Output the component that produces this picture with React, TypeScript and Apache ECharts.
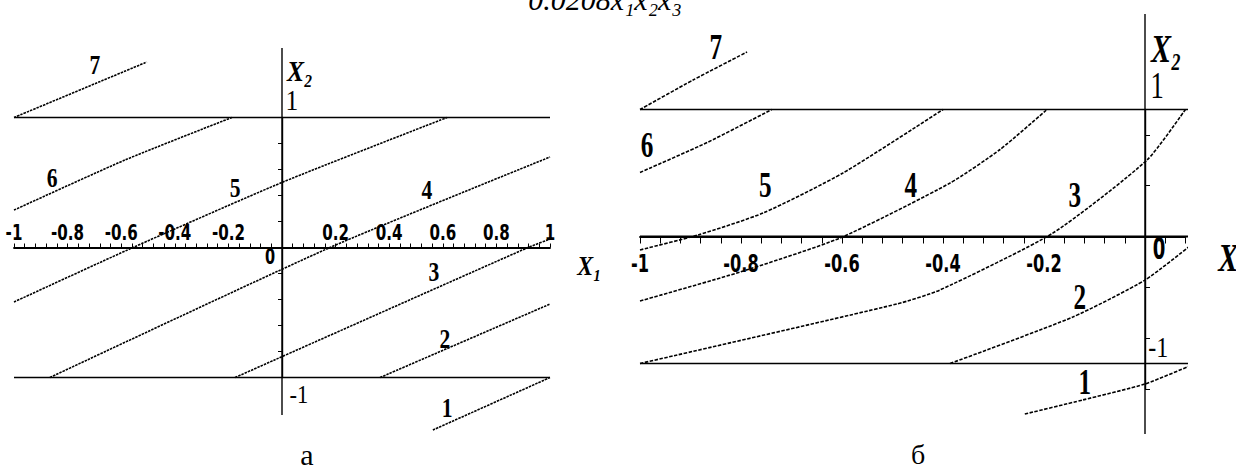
import React, { useEffect, useRef } from 'react';
import * as echarts from 'echarts';

// ---------- panel «а» : level lines of the response in the (x1, x2) plane ----------
const ticksA = [-1, -0.8, -0.6, -0.4, -0.2, 0.2, 0.4, 0.6, 0.8, 1];
const tickLabelsA = ['-1', '-0.8', '-0.6', '-0.4', '-0.2', '0.2', '0.4', '0.6', '0.8', '1'];
const boundaryXA = [-1, 1];
const x2SpanA = [-1.288, 1.535];

const levelA1 = [[0.563, -1.404], [1.0, -1.0]];
const levelA2 = [[0.366, -1.0], [1.0, -0.435]];
const levelA3 = [[-0.175, -1.0], [0.918, 0], [1.0, 0.065]];
const levelA4 = [[-0.866, -1.0], [0.179, 0], [1.0, 0.696]];
const levelA5 = [[-1.0, -0.419], [-0.556, 0], [0.004, 0.504], [0.616, 1.0]];
const levelA6 = [[-1.0, 0.288], [-0.586, 0.673], [-0.187, 1.0]];
const levelA7 = [[-1.0, 1.0], [-0.504, 1.427]];
const levelNames = ['1', '2', '3', '4', '5', '6', '7'];
// where each level number sits (data coordinates of the panel)
const levelAnchorsA = [
  [0.616, -1.235], [0.608, -0.704], [0.567, -0.188], [0.541, 0.442],
  [-0.175, 0.458], [-0.858, 0.535], [-0.698, 1.404],
];

// ---------- panel «б» ----------
const ticksB = [-1, -0.8, -0.6, -0.4, -0.2];
const tickLabelsB = ['-1', '-0.8', '-0.6', '-0.4', '-0.2'];
const boundaryXB = [-1, 0.1];
const x2SpanB = [-1.555, 1.752];
const x1SpanB = [-1, 0.18];

const levelB1 = [[-0.238, -1.398], [-0.123, -1.287], [0, -1.161], [0.1, -1.0]];
const levelB2 = [[-0.386, -1.0], [-0.143, -0.634], [0, -0.343], [0.099, -0.043]];
const levelB3 = [[-1, -1], [-0.491, -0.531], [-0.406, -0.421], [-0.182, 0.028], [0.004, 0.602], [0.08, 1]];
const levelB4 = [[-1, -0.508], [-0.802, -0.28], [-0.604, -0.012], [-0.386, 0.421], [-0.287, 0.685], [-0.194, 1]];
const levelB5 = [[-1, -0.106], [-0.885, 0.012], [-0.756, 0.185], [-0.598, 0.5], [-0.4, 1]];
const levelB6 = [[-1, 0.504], [-0.867, 0.74], [-0.739, 1]];
const levelB7 = [[-1, 1], [-0.895, 1.232], [-0.788, 1.453]];
const levelAnchorsB = [
  [-0.119, -1.146], [-0.129, -0.476], [-0.139, 0.327], [-0.464, 0.406],
  [-0.752, 0.406], [-0.986, 0.72], [-0.85, 1.492],
];

const tickFamily = '"DejaVu Sans Condensed", "DejaVu Sans", sans-serif';
const serifFamily = '"Liberation Serif", "Times New Roman", "DejaVu Serif", serif';

const solid = (data: number[][], g: number, width = 1.7) => ({
  type: 'line', xAxisIndex: g, yAxisIndex: g, data, symbol: 'none', clip: false, silent: true,
  lineStyle: { color: '#000', width }, z: 3,
});

const contour = (data: number[][], g: number, dash: number[]) => ({
  type: 'line', xAxisIndex: g, yAxisIndex: g, data, symbol: 'none', clip: false, silent: true,
  smooth: 0.2,
  lineStyle: { color: '#000', width: 1.6, type: dash }, z: 2,
});

export default function App() {
  const ref = useRef<HTMLDivElement>(null);

  useEffect(() => {
    const chart = echarts.init(ref.current!, null, { renderer: 'svg' });
    const dashA = [2.5, 1];
    const dashB = [3.5, 1.5];

    const option: any = {
      animation: false,
      backgroundColor: '#fff',
      grid: [
        { left: 14, top: 117.5, width: 536, height: 260, outerBoundsMode: 'none' },
        { left: 640, top: 109.5, width: 545.4, height: 279.4, outerBoundsMode: 'none' },
      ],
      xAxis: [
        {
          type: 'value', gridIndex: 0, min: -1, max: 1, interval: 0.04,
          axisLine: { onZero: true, lineStyle: { color: '#000', width: 1.8 } },
          axisTick: { inside: true, length: 4, lineStyle: { color: '#000', width: 1 } },
          axisLabel: { show: false },
          splitLine: { show: false },
        },
        {
          type: 'value', gridIndex: 1, min: -1, max: 0.08, interval: 0.04,
          axisLine: { onZero: true, lineStyle: { color: '#000', width: 1.8 } },
          axisTick: { inside: false, length: 7, lineStyle: { color: '#000', width: 1 } },
          axisLabel: { show: false },
          splitLine: { show: false },
        },
      ],
      yAxis: [
        {
          type: 'value', gridIndex: 0, min: -1, max: 1, interval: 0.2,
          axisLine: { onZero: true, lineStyle: { color: '#000', width: 1.4 } },
          axisTick: { inside: false, length: 4, lineStyle: { color: '#000', width: 1 } },
          axisLabel: { show: false },
          splitLine: { show: false },
        },
        {
          type: 'value', gridIndex: 1, min: -1.2, max: 1, interval: 0.4,
          axisLine: { onZero: true, lineStyle: { color: '#000', width: 1.4 } },
          axisTick: { inside: true, length: 5, lineStyle: { color: '#000', width: 1 } },
          axisLabel: { show: false },
          splitLine: { show: false },
        },
      ],
      series: [
        // panel а frame: x2 = ±1 boundaries and the full x2 axis
        solid(boundaryXA.map((x) => [x, 1]), 0),
        solid(boundaryXA.map((x) => [x, -1]), 0),
        solid(x2SpanA.map((y) => [0, y]), 0, 1.4),
        contour(levelA1, 0, dashA),
        contour(levelA2, 0, dashA),
        contour(levelA3, 0, dashA),
        contour(levelA4, 0, dashA),
        contour(levelA5, 0, dashA),
        contour(levelA6, 0, dashA),
        contour(levelA7, 0, dashA),
        // panel б frame
        solid(boundaryXB.map((x) => [x, 1]), 1),
        solid(boundaryXB.map((x) => [x, -1]), 1),
        solid(x2SpanB.map((y) => [0, y]), 1, 1.4),
        solid(x1SpanB.map((x) => [x, 0]), 1, 1.8),
        contour(levelB1, 1, dashB),
        contour(levelB2, 1, dashB),
        contour(levelB3, 1, dashB),
        contour(levelB4, 1, dashB),
        contour(levelB5, 1, dashB),
        contour(levelB6, 1, dashB),
        contour(levelB7, 1, dashB),
      ],
    };
    chart.setOption(option);

    const elements: any[] = [];
    const px = (g: number, p: number[]) => chart.convertToPixel({ gridIndex: g }, p) as number[];
    const put = (x: number, y: number, text: string, font: string, scaleX = 1, align = 'center') => {
      elements.push({
        type: 'text', x, y, scaleX, silent: true,
        style: { text, fill: '#000', font, align, verticalAlign: 'middle' },
      });
    };
    const addText = (g: number, p: number[], text: string, font: string, scaleX = 1, align = 'center') => {
      const [x, y] = px(g, p);
      put(x, y, text, font, scaleX, align);
    };

    // x1 tick labels: above the axis in «а», below it in «б»
    ticksA.forEach((t, i) => {
      const [x, y] = px(0, [t, 0]);
      put(x, y - 15, tickLabelsA[i], `bold 21px ${tickFamily}`, 0.8);
    });
    ticksB.forEach((t, i) => {
      const [x, y] = px(1, [t, 0]);
      put(x, y + 27, tickLabelsB[i], `bold 25px ${tickFamily}`, 0.72);
    });

    levelNames.forEach((n, i) => {
      addText(0, levelAnchorsA[i], n, `bold 27px ${serifFamily}`, 0.8);
      addText(1, levelAnchorsB[i], n, `bold 36px ${serifFamily}`, 0.7);
    });

    // axis names and the unit marks
    addText(0, [0.019, 1.358], 'X₂', `italic bold 30px ${serifFamily}`, 0.85, 'left');
    addText(0, [0.037, 1.135], '1', `30px ${serifFamily}`, 0.85);
    addText(0, [0.063, -1.135], '-1', `25px ${serifFamily}`, 0.9);
    addText(0, [-0.045, -0.073], '0', `bold 21px ${tickFamily}`, 0.77);
    addText(0, [1.102, -0.142], 'X₁', `italic bold 28px ${serifFamily}`, 0.85, 'left');

    addText(1, [0.012, 1.484], 'X₂', `italic bold 40px ${serifFamily}`, 0.75, 'left');
    addText(1, [0.024, 1.193], '1', `37px ${serifFamily}`, 0.72);
    addText(1, [0.026, -0.87], '-1', `30px ${serifFamily}`, 0.8);
    addText(1, [0.028, -0.09], '0', `bold 31px ${tickFamily}`, 0.65);
    addText(1, [0.145, -0.161], 'X₁', `italic bold 40px ${serifFamily}`, 0.75, 'left');

    // heading and panel captions
    put(605, -1, '0.0208x₁x₂x₃', `italic 30px ${serifFamily}`);
    put(307, 454, 'а', `30px ${serifFamily}`);
    put(918, 454, 'б', `28px ${serifFamily}`);

    chart.setOption({ graphic: { elements } });

    return () => chart.dispose();
  }, []);

  return (
    <div
      ref={ref}
      style={{ position: 'absolute', left: 0, top: 0, width: 1236, height: 470, background: '#fff' }}
    />
  );
}
